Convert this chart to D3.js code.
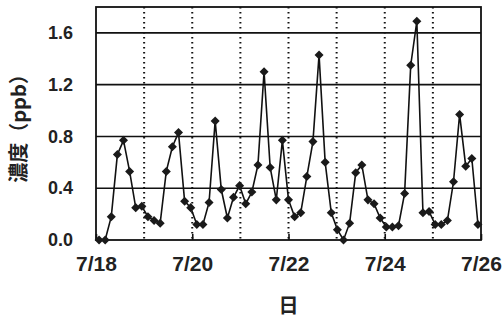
<!DOCTYPE html>
<html>
<head>
<meta charset="utf-8">
<script src="https://cdn.jsdelivr.net/npm/d3@7"></script>
<style>
  body { margin: 0; background: #fff; }
  svg { display: block; }
</style>
</head>
<body>
<svg id="chart" width="504" height="320"></svg>
<script>
// 3-hourly concentration samples, 7/18 - 7/26 (ppb)
const conc = [
  0.00, 0.00, 0.18, 0.66, 0.77, 0.53, 0.25, 0.26, 0.18, 0.15,
  0.13, 0.53, 0.72, 0.83, 0.30, 0.25, 0.12, 0.12, 0.29, 0.92,
  0.39, 0.17, 0.33, 0.42, 0.28, 0.37, 0.58, 1.30, 0.56, 0.31,
  0.77, 0.31, 0.18, 0.21, 0.49, 0.76, 1.43, 0.60, 0.21, 0.08,
  0.00, 0.13, 0.52, 0.58, 0.31, 0.28, 0.17, 0.10, 0.10, 0.11,
  0.36, 1.35, 1.69, 0.21, 0.22, 0.12, 0.12, 0.15, 0.45, 0.97,
  0.57, 0.63, 0.12
];
const days = [18, 19, 20, 21, 22, 23, 24, 25, 26];   // day grid (July)
const dayLabels = [18, 20, 22, 24, 26];
const yTicks = [0, 0.4, 0.8, 1.2, 1.6];

const svg = d3.select('#chart');
const margin = {top: 7, right: 23, bottom: 80, left: 96};
const width = +svg.attr('width');
const height = +svg.attr('height');
const innerW = width - margin.left - margin.right;
const innerH = height - margin.top - margin.bottom;

// samples sit in category slots across the plot, dates are on a separate axis
const x = d3.scalePoint()
    .domain(d3.range(conc.length))
    .range([0, innerW])
    .padding(0.5);
const xDay = d3.scaleLinear().domain([18, 26]).range([0, innerW]);
const y = d3.scaleLinear().domain([0, 1.8]).range([innerH, 0]);

const g = svg.append('g').attr('transform', `translate(${margin.left},${margin.top})`);

// dotted day lines
g.selectAll('line.day')
    .data(days.slice(1, -1))
    .enter()
    .append('line')
    .attr('class', 'day')
    .attr('x1', d => xDay(d)).attr('x2', d => xDay(d))
    .attr('y1', 0).attr('y2', innerH)
    .attr('stroke', '#111')
    .attr('stroke-width', 2)
    .attr('stroke-dasharray', '1.6,3.4');

// horizontal gridlines
g.selectAll('line.grid')
    .data(yTicks.slice(1))
    .enter()
    .append('line')
    .attr('class', 'grid')
    .attr('x1', 0).attr('x2', innerW)
    .attr('y1', d => y(d)).attr('y2', d => y(d))
    .attr('stroke', '#111')
    .attr('stroke-width', 1.6);

// frame
g.append('rect')
    .attr('width', innerW).attr('height', innerH)
    .attr('fill', 'none')
    .attr('stroke', '#111')
    .attr('stroke-width', 1.8);

// x axis: inward ticks, labels below
const xAxis = g.append('g')
    .attr('transform', `translate(0,${innerH})`)
    .call(d3.axisBottom(xDay).tickValues(dayLabels).tickSize(-6).tickPadding(16)
        .tickFormat(d => '7/' + d));
xAxis.select('.domain').remove();
xAxis.selectAll('line').attr('stroke', '#111').attr('stroke-width', 1.6);
xAxis.selectAll('text')
    .attr('font-family', '"Liberation Sans", Arial, sans-serif')
    .attr('font-size', 21)
    .attr('font-weight', 'bold')
    .attr('fill', '#222');

// y axis labels
const yAxis = g.append('g')
    .call(d3.axisLeft(y).tickValues(yTicks).tickSize(0).tickPadding(23)
        .tickFormat(d3.format('.1f')));
yAxis.select('.domain').remove();
yAxis.selectAll('text')
    .attr('font-family', '"Liberation Sans", Arial, sans-serif')
    .attr('font-size', 18)
    .attr('font-weight', 'bold')
    .attr('fill', '#222');

// the series
const line = d3.line()
    .x((d, i) => x(i))
    .y(d => y(d));

g.append('path')
    .datum(conc)
    .attr('fill', 'none')
    .attr('stroke', '#111')
    .attr('stroke-width', 1.6)
    .attr('d', line);

g.selectAll('path.pt')
    .data(conc)
    .enter()
    .append('path')
    .attr('class', 'pt')
    .attr('d', d3.symbol().type(d3.symbolDiamond2).size(52))
    .attr('transform', (d, i) => `translate(${x(i)},${y(d)})`)
    .attr('fill', '#1a1a1a');

// axis titles
svg.append('text')
    .attr('transform', `translate(26,${margin.top + innerH / 2}) rotate(-90)`)
    .attr('text-anchor', 'middle')
    .attr('font-family', '"Noto Sans CJK JP", sans-serif')
    .attr('font-size', 20)
    .attr('font-weight', 'bold')
    .attr('fill', '#222')
    .text('濃度（ppb）');

svg.append('text')
    .attr('x', margin.left + innerW / 2)
    .attr('y', 313)
    .attr('text-anchor', 'middle')
    .attr('font-family', '"Noto Sans CJK JP", sans-serif')
    .attr('font-size', 20)
    .attr('font-weight', 'bold')
    .attr('fill', '#222')
    .text('日');
</script>
</body>
</html>
